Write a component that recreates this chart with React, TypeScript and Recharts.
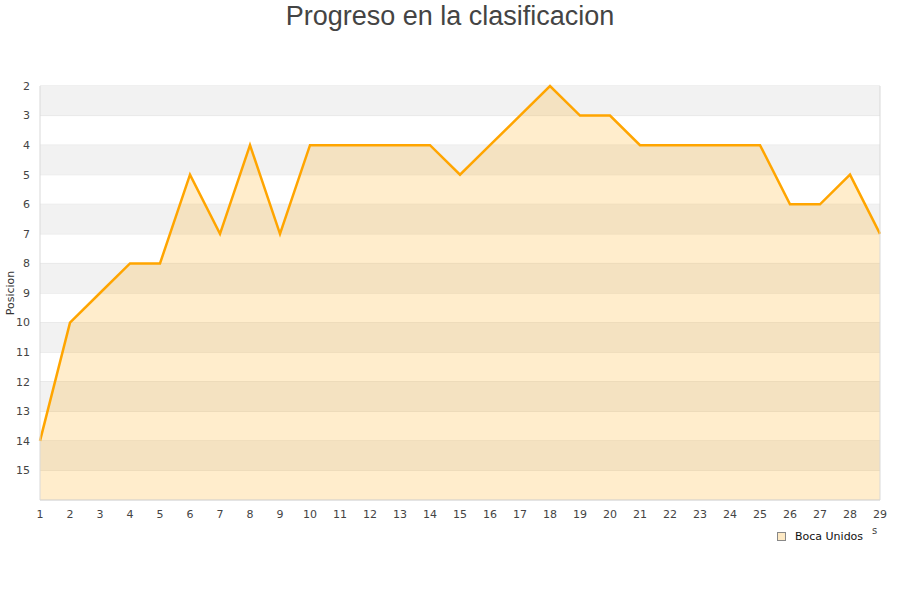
import { AreaChart, Area, XAxis, YAxis, CartesianGrid, ReferenceArea, ReferenceLine } from "recharts";

const FECHAS = [1, 2, 3, 4, 5, 6, 7, 8, 9, 10, 11, 12, 13, 14, 15, 16, 17, 18, 19, 20, 21, 22, 23, 24, 25, 26, 27, 28, 29];
const POSICION = [14, 10, 9, 8, 8, 5, 7, 4, 7, 4, 4, 4, 4, 4, 5, 4, 3, 2, 3, 3, 4, 4, 4, 4, 4, 6, 6, 5, 7];
const Y_TICKS = [2, 3, 4, 5, 6, 7, 8, 9, 10, 11, 12, 13, 14, 15];
const BANDS = [2, 4, 6, 8, 10, 12, 14];

const ORANGE = "#ffa500";
const TICK = { fill: "#444", fontSize: 11, fontFamily: "DejaVu Sans" };

const data = FECHAS.map((f, i) => ({ fecha: f, pos: POSICION[i] }));

export default function App() {
  return (
    <div style={{ position: "absolute", left: 0, top: 0, width: 900, height: 600, background: "#fff" }}>
      <div
        style={{
          position: "absolute", left: 0, top: 0, width: 900, textAlign: "center",
          fontFamily: "Liberation Sans", fontSize: 27, color: "#444", lineHeight: "32px",
        }}
      >
        Progreso en la clasificacion
      </div>
      <AreaChart width={900} height={600} data={data} margin={{ top: 86, right: 20, bottom: 70, left: 0 }}>
        {BANDS.map((b) => (
          <ReferenceArea key={b} y1={b} y2={b + 1} fill="#f2f2f2" fillOpacity={1} stroke="none" />
        ))}
        <CartesianGrid horizontal vertical={false} stroke="#e0e0e0" />
        <ReferenceLine x={29} stroke="#d9d9d9" />
        <XAxis
          dataKey="fecha"
          type="number"
          domain={[1, 29]}
          ticks={FECHAS}
          tick={TICK}
          tickLine={false}
          tickMargin={4}
          axisLine={{ stroke: "#d9d9d9" }}
          height={30}
        />
        <YAxis
          reversed
          type="number"
          domain={[2, 16]}
          ticks={Y_TICKS}
          interval={0}
          tick={TICK}
          tickLine={false}
          tickMargin={4}
          axisLine={{ stroke: "#d9d9d9" }}
          width={40}
          label={{ value: "Posicion", angle: -90, position: "insideLeft", offset: 10, style: { textAnchor: "middle", fill: "#333", fontSize: 11, fontFamily: "DejaVu Sans" } }}
        />
        <Area
          type="linear"
          dataKey="pos"
          baseValue={16}
          stroke={ORANGE}
          strokeWidth={2.5}
          fill={ORANGE}
          fillOpacity={0.2}
          dot={false}
          activeDot={false}
          isAnimationActive={false}
        />
      </AreaChart>
      <div
        style={{
          position: "absolute", left: 777, top: 530, display: "flex", alignItems: "center",
          fontFamily: "DejaVu Sans", fontSize: 11, color: "#111",
        }}
      >
        <span style={{ width: 7, height: 7, background: "#fde9c4", border: "1px solid #888", marginRight: 9 }} />
        Boca Unidos
      </div>
      <div style={{ position: "absolute", left: 872, top: 525, fontFamily: "DejaVu Sans", fontSize: 10, color: "#444" }}>s</div>
    </div>
  );
}
